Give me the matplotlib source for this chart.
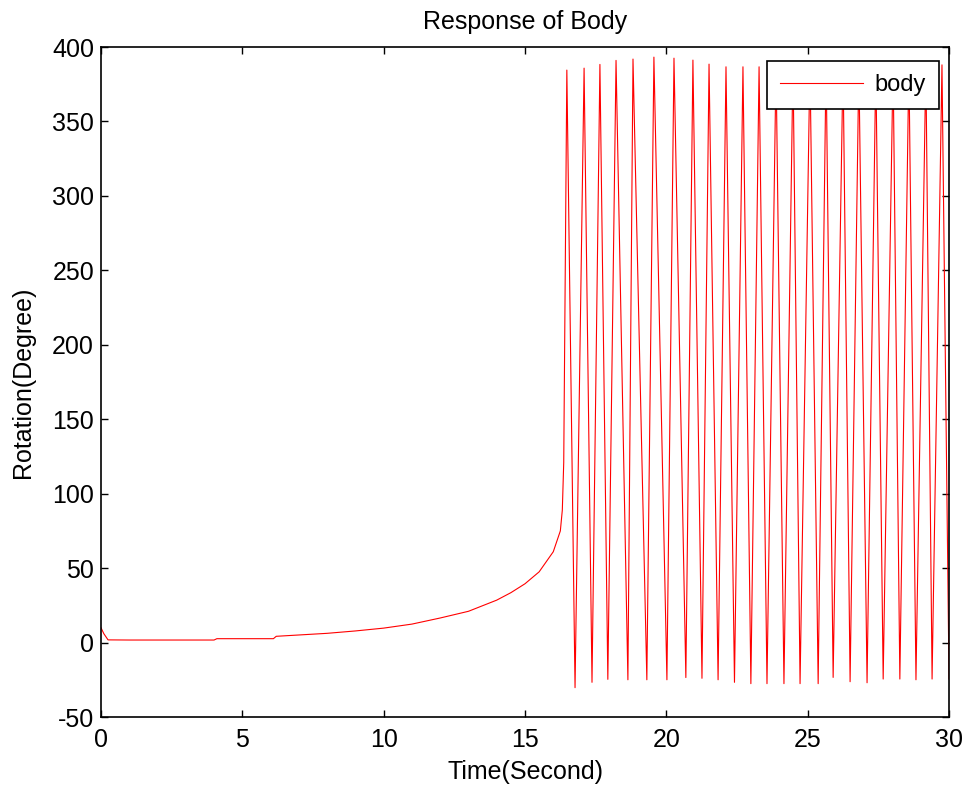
import matplotlib
matplotlib.use("Agg")
import matplotlib.pyplot as plt
import numpy as np

# smooth part before the spin-up (time s, rotation deg)
t_rise = [0.0, 0.1, 0.25, 1.0, 2.0, 4.0, 4.1, 6.1, 6.2, 8.0, 9.0, 10.0, 11.0, 12.0,
          13.0, 14.0, 14.5, 15.0, 15.5, 16.0, 16.25, 16.32, 16.37]
v_rise = [10.0, 6.0, 1.8, 1.7, 1.7, 1.7, 2.6, 2.6, 4.2, 6.2, 7.8, 9.7, 12.4, 16.5,
          21.0, 28.5, 33.5, 39.5, 47.5, 61.0, 75.0, 89.0, 121.0]

# oscillation peaks
peak_t = [16.48, 17.09, 17.65, 18.22, 18.82, 19.56, 20.27, 20.94, 21.51, 22.11, 22.71, 23.28,
          23.88, 24.48, 25.08, 25.65, 26.25, 26.81, 27.41, 28.02, 28.58, 29.18, 29.75]
peak_v = [384.5, 385.8, 388.3, 391.0, 391.9, 393.2, 392.5, 391.2, 388.5, 386.7, 386.7, 386.7,
          388.0, 389.0, 390.0, 390.0, 389.0, 388.0, 388.0, 389.0, 389.0, 388.0, 388.0]

# oscillation troughs
trough_t = [16.77, 17.37, 17.93, 18.64, 19.31, 20.02, 20.69, 21.26, 21.83, 22.41, 22.99, 23.56,
            24.16, 24.73, 25.37, 25.90, 26.50, 27.10, 27.67, 28.26, 28.83, 29.40, 30.00]
trough_v = [-30.3, -26.7, -24.7, -25.0, -25.0, -25.0, -23.5, -24.0, -25.0, -26.7, -27.6, -27.6,
            -27.6, -27.6, -27.6, -23.4, -26.3, -27.0, -24.5, -24.5, -25.0, -24.5, -24.5]

t = list(t_rise)
v = list(v_rise)
for pt, pv, tt, tv in zip(peak_t, peak_v, trough_t, trough_v):
    t += [pt, tt]
    v += [pv, tv]

plt.rcParams["font.family"] = ["Liberation Sans", "DejaVu Sans"]
plt.rcParams["axes.unicode_minus"] = False

fig = plt.figure(figsize=(9.69, 7.90), dpi=100)
ax = fig.add_axes([0.1042, 0.0924, 0.8752, 0.8481])

ax.plot(t, v, color="red", lw=0.8, label="body")

ax.set_xlim(0, 30)
ax.set_ylim(-50, 400)
ax.set_xticks(np.arange(0, 31, 5))
ax.set_yticks(np.arange(-50, 401, 50))
ax.tick_params(direction="in", length=5, width=1, top=True, right=True, labelsize=18)
ax.tick_params(axis="x", pad=8)
ax.tick_params(axis="y", pad=5)
for s in ax.spines.values():
    s.set_linewidth(1.2)

ax.set_title("Response of Body", fontsize=18, pad=13)
ax.set_xlabel("Time(Second)", fontsize=18, labelpad=6)
ax.set_ylabel("Rotation(Degree)", fontsize=18, labelpad=12)

leg = ax.legend(loc="upper right", bbox_to_anchor=(0.988, 0.979), borderaxespad=0,
                fancybox=False, edgecolor="black", framealpha=1, fontsize=17,
                handlelength=3.5, handletextpad=0.5, borderpad=0.55)
leg.get_frame().set_linewidth(1.2)

fig.savefig("out.png", dpi=100)
